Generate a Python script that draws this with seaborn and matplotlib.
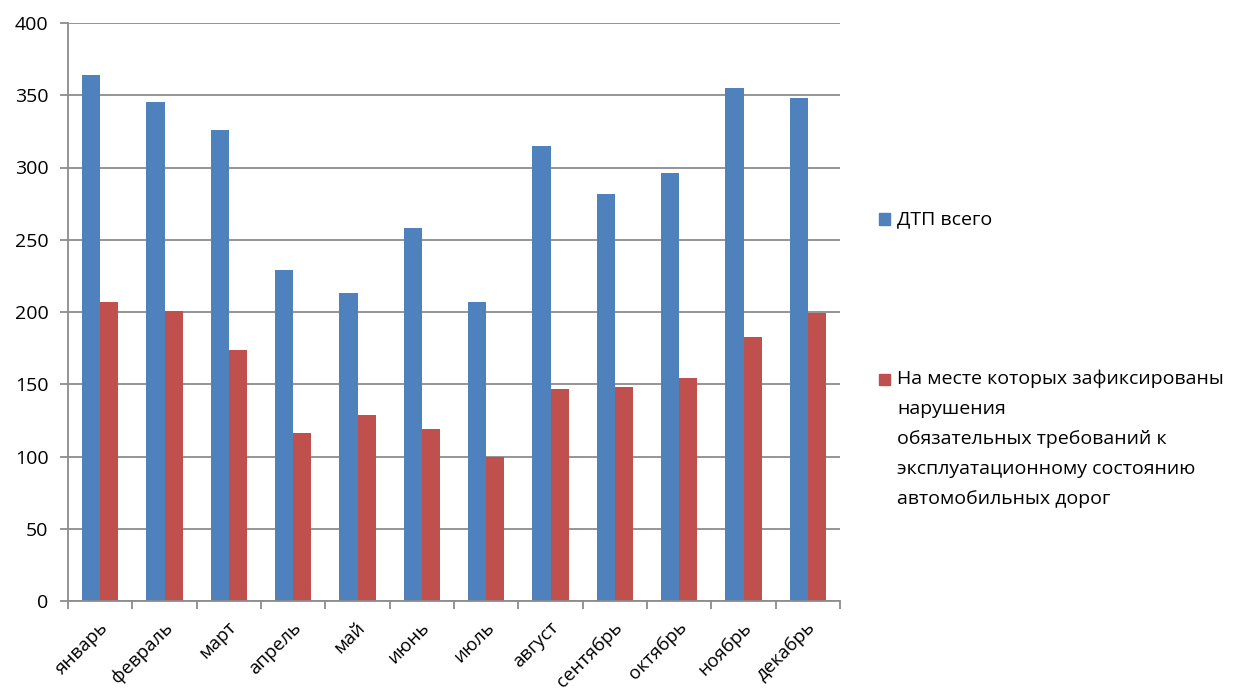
import matplotlib
matplotlib.use("Agg")
import matplotlib.pyplot as plt
import matplotlib.transforms as mtransforms
from matplotlib.patches import Rectangle
from matplotlib.ticker import FixedLocator, MultipleLocator
import seaborn as sns
import pandas as pd

# Monthly data
months = ["январь", "февраль", "март", "апрель", "май", "июнь",
          "июль", "август", "сентябрь", "октябрь", "ноябрь", "декабрь"]
total_accidents = [364, 345, 326, 229, 213, 258, 207, 315, 282, 296, 355, 348]
road_violations = [207, 201, 174, 116, 129, 119, 100, 147, 148, 154, 183, 199]

series_total = "ДТП всего"
series_viol_lines = ["На месте которых зафиксированы",
                     "нарушения",
                     "обязательных требований к",
                     "эксплуатационному состоянию",
                     "автомобильных дорог"]
series_viol = "\n".join(series_viol_lines)

blue = "#4F81BD"
red = "#C0504D"
grid_col = "#8C8C8C"

df = pd.DataFrame({
    "month": months * 2,
    "value": total_accidents + road_violations,
    "series": [series_total] * len(months) + [series_viol] * len(months),
})

sns.set_theme(style="white")
plt.rcParams["font.family"] = ["Open Sans", "DejaVu Sans"]

W, H = 1253, 695
fig = plt.figure(figsize=(W / 100, H / 100), dpi=100)
ax = fig.add_axes([68 / W, 1 - 601 / H, (840 - 68) / W, (601 - 23) / H])

sns.barplot(data=df, x="month", y="value", hue="series",
            palette=[blue, red], width=0.56, gap=0, linewidth=0,
            saturation=1, legend=False, ax=ax)

ax.set_xlim(-0.5, len(months) - 0.5)
ax.set_ylim(0, 400)
ax.yaxis.set_major_locator(MultipleLocator(50))
ax.set_xlabel("")
ax.set_ylabel("")

# horizontal gridlines behind bars
ax.set_axisbelow(True)
ax.grid(axis="y", color=grid_col, linewidth=1.3)
ax.grid(axis="x", visible=False)

for side in ["top", "right"]:
    ax.spines[side].set_visible(False)
for side in ["left", "bottom"]:
    ax.spines[side].set_color(grid_col)
    ax.spines[side].set_linewidth(1.3)

# y ticks outward
ax.tick_params(axis="y", which="major", direction="out", length=6,
               width=1.3, color=grid_col, pad=8, labelsize=14,
               labelcolor="black", left=True)

# category boundaries carry the tick marks, labels sit at centers
ax.xaxis.set_minor_locator(FixedLocator([i - 0.5 for i in range(len(months) + 1)]))
ax.tick_params(axis="x", which="minor", direction="out", length=6,
               width=1.3, color=grid_col, bottom=True)
ax.tick_params(axis="x", which="major", length=0, pad=17, labelsize=13.5,
               labelcolor="black")
offset = mtransforms.ScaledTranslation(5 / 100, 0, fig.dpi_scale_trans)
for lbl in ax.get_xticklabels():
    lbl.set_rotation(45)
    lbl.set_ha("right")
    lbl.set_va("center")
    lbl.set_rotation_mode("anchor")
    lbl.set_transform(lbl.get_transform() + offset)

# legend on the right
def fx(px):
    return px / W

def fy(py):
    return 1 - py / H

sq = 11
fig.add_artist(Rectangle((fx(879), fy(219 + sq / 2)), sq / W, sq / H,
                         transform=fig.transFigure, color=blue))
fig.text(fx(897), fy(219), series_total, fontsize=14, va="center",
         ha="left", color="black")

fig.add_artist(Rectangle((fx(879), fy(379 + sq / 2)), sq / W, sq / H,
                         transform=fig.transFigure, color=red))
for i, line in enumerate(series_viol_lines):
    fig.text(fx(897), fy(379 + 30 * i), line, fontsize=14, va="center",
             ha="left", color="black")

fig.savefig("out.png", dpi=100)
